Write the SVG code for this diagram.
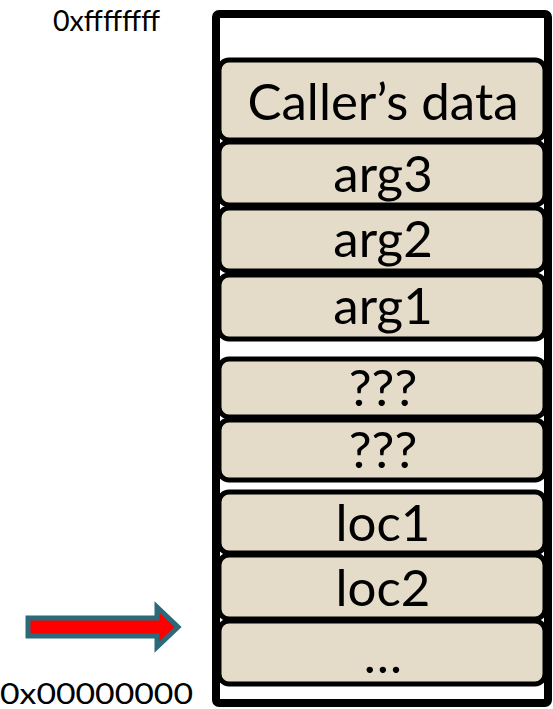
<svg xmlns="http://www.w3.org/2000/svg" width="553" height="709" viewBox="0 0 553 709">
  <style>
    .frame { fill: #ffffff; stroke: #000000; stroke-width: 8; }
    .cell rect { fill: #e4dcc9; stroke: #000000; stroke-width: 5; }
    .cell text { font-family: Lato, "Open Sans", sans-serif; font-size: 51px; fill: #000000; text-anchor: middle; }
    .addr { font-family: Lato, "Open Sans", sans-serif; font-size: 29px; fill: #000000; }
    .pointer { fill: #ff0000; stroke: #2a6a79; stroke-width: 5; stroke-linejoin: miter; }
  </style>

  <!-- stack frame outline -->
  <rect class="frame" x="216" y="14" width="332" height="689" rx="3"/>

  <!-- stack slots, highest address at top -->
  <g id="callers-data" class="cell">
    <rect x="219" y="60" width="326" height="80" rx="10"/>
    <text x="383" y="120">Caller’s data</text>
  </g>
  <g id="arg3" class="cell">
    <rect x="219" y="142" width="326" height="63" rx="10"/>
    <text x="383" y="192">arg3</text>
  </g>
  <g id="arg2" class="cell">
    <rect x="219" y="208" width="326" height="63" rx="10"/>
    <text x="383" y="257">arg2</text>
  </g>
  <g id="arg1" class="cell">
    <rect x="219" y="275" width="326" height="64" rx="10"/>
    <text x="383" y="324">arg1</text>
  </g>
  <g id="unknown1" class="cell">
    <rect x="219" y="359" width="326" height="58" rx="10"/>
    <text x="383" y="406">???</text>
  </g>
  <g id="unknown2" class="cell">
    <rect x="219" y="420" width="326" height="60" rx="10"/>
    <text x="383" y="468">???</text>
  </g>
  <g id="loc1" class="cell">
    <rect x="219" y="492" width="326" height="61" rx="10"/>
    <text x="383" y="541">loc1</text>
  </g>
  <g id="loc2" class="cell">
    <rect x="219" y="555" width="326" height="64" rx="10"/>
    <text x="383" y="606">loc2</text>
  </g>
  <g id="more" class="cell">
    <rect x="219" y="621" width="326" height="63" rx="10"/>
    <text x="383" y="673">…</text>
  </g>

  <!-- address labels -->
  <text id="addr-high" class="addr" x="53" y="31" textLength="107" lengthAdjust="spacingAndGlyphs">0xffffffff</text>
  <text id="addr-low" class="addr" x="0" y="704" textLength="193" lengthAdjust="spacingAndGlyphs">0x00000000</text>

  <!-- stack pointer arrow -->
  <g id="connectors">
    <polygon class="pointer" points="28,618 157,618 157,607 178,627 157,647 157,636 28,636"/>
  </g>
</svg>
